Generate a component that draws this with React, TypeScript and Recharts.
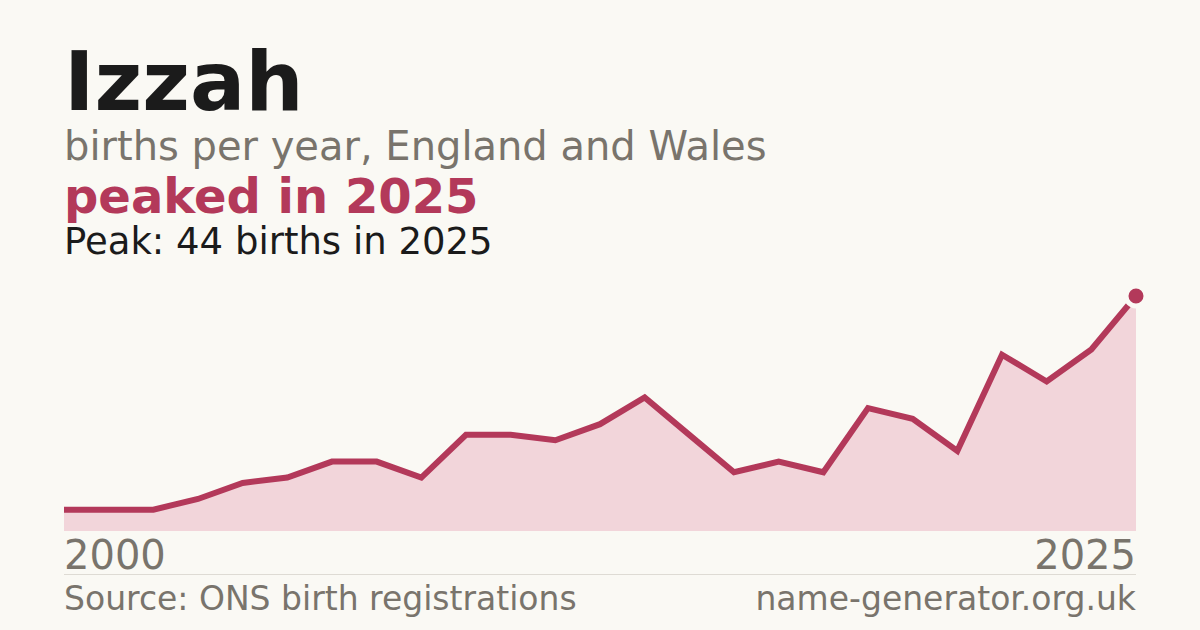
import { Area, AreaChart, XAxis, YAxis } from "recharts";

const YEARS = [
  "2000", "2002", "2003", "2004", "2005", "2006", "2007", "2008", "2009",
  "2010", "2011", "2012", "2013", "2014", "2015", "2016", "2017", "2018",
  "2019", "2020", "2021", "2022", "2023", "2024", "2025",
];
const BIRTHS = [4, 4, 4, 6, 9, 10, 13, 13, 10, 18, 18, 17, 20, 25, 18, 11, 13, 11, 23, 21, 15, 33, 28, 34, 44];
const AXIS_TICKS = ["2000", "2025"];

const BG = "#faf9f4";
const ACCENT = "#b3395a";
const GREY = "#79746c";
const INK = "#1b1b1b";
const FONT = "'DejaVu Sans', sans-serif";

const data = YEARS.map((year, i) => ({ year, births: BIRTHS[i] }));
const peak = Math.max(...BIRTHS);
const peakIdx = BIRTHS.indexOf(peak);

function YearTick(props: any) {
  const { x, y, payload } = props;
  const first = payload.value === AXIS_TICKS[0];
  return (
    <text
      x={x}
      y={y}
      textAnchor={first ? "start" : "end"}
      fill={GREY}
      fontSize={40}
      fontFamily={FONT}
    >
      {payload.value}
    </text>
  );
}

function PeakDot(props: any) {
  const { cx, cy, index } = props;
  if (index !== peakIdx) return <g key={index} />;
  return <circle key={index} cx={cx} cy={cy} r={10} fill={ACCENT} stroke={BG} strokeWidth={5} />;
}

const text = (top: number, size: number, color: string, bold = false) => ({
  position: "absolute" as const,
  left: 64,
  top,
  fontSize: size,
  lineHeight: 1,
  color,
  fontWeight: bold ? 700 : 400,
  whiteSpace: "nowrap" as const,
});

export default function App() {
  return (
    <div
      style={{
        position: "absolute",
        left: 0,
        top: 0,
        width: 1200,
        height: 630,
        background: BG,
        fontFamily: FONT,
        overflow: "hidden",
      }}
    >
      <AreaChart
        width={1200}
        height={630}
        data={data}
        margin={{ top: 296, right: 64, bottom: 39, left: 64 }}
        style={{ position: "absolute", left: 0, top: 0 }}
      >
        <XAxis
          dataKey="year"
          ticks={AXIS_TICKS}
          interval={0}
          height={60}
          axisLine={false}
          tickLine={false}
          tickSize={0}
          tickMargin={38}
          tick={<YearTick />}
        />
        <YAxis hide domain={[0, peak]} />
        <Area
          type="linear"
          dataKey="births"
          stroke={ACCENT}
          strokeWidth={6}
          fill="#f2d5da"
          fillOpacity={1}
          dot={PeakDot}
          activeDot={false}
          isAnimationActive={false}
        />
      </AreaChart>

      <div style={text(40.6, 82, INK, true)}>Izzah</div>
      <div style={text(126.2, 40, GREY)}>births per year, England and Wales</div>
      <div style={text(172.4, 48, ACCENT, true)}>peaked in 2025</div>
      <div style={text(222.7, 37, INK)}>Peak: 44 births in 2025</div>

      <div style={{ position: "absolute", left: 64, top: 574, width: 1072, height: 1, background: "#dedbd4" }} />
      <div style={text(582.1, 33, GREY)}>Source: ONS birth registrations</div>
      <div style={{ ...text(582.1, 33, GREY), left: undefined, right: 64 }}>name-generator.org.uk</div>
    </div>
  );
}
